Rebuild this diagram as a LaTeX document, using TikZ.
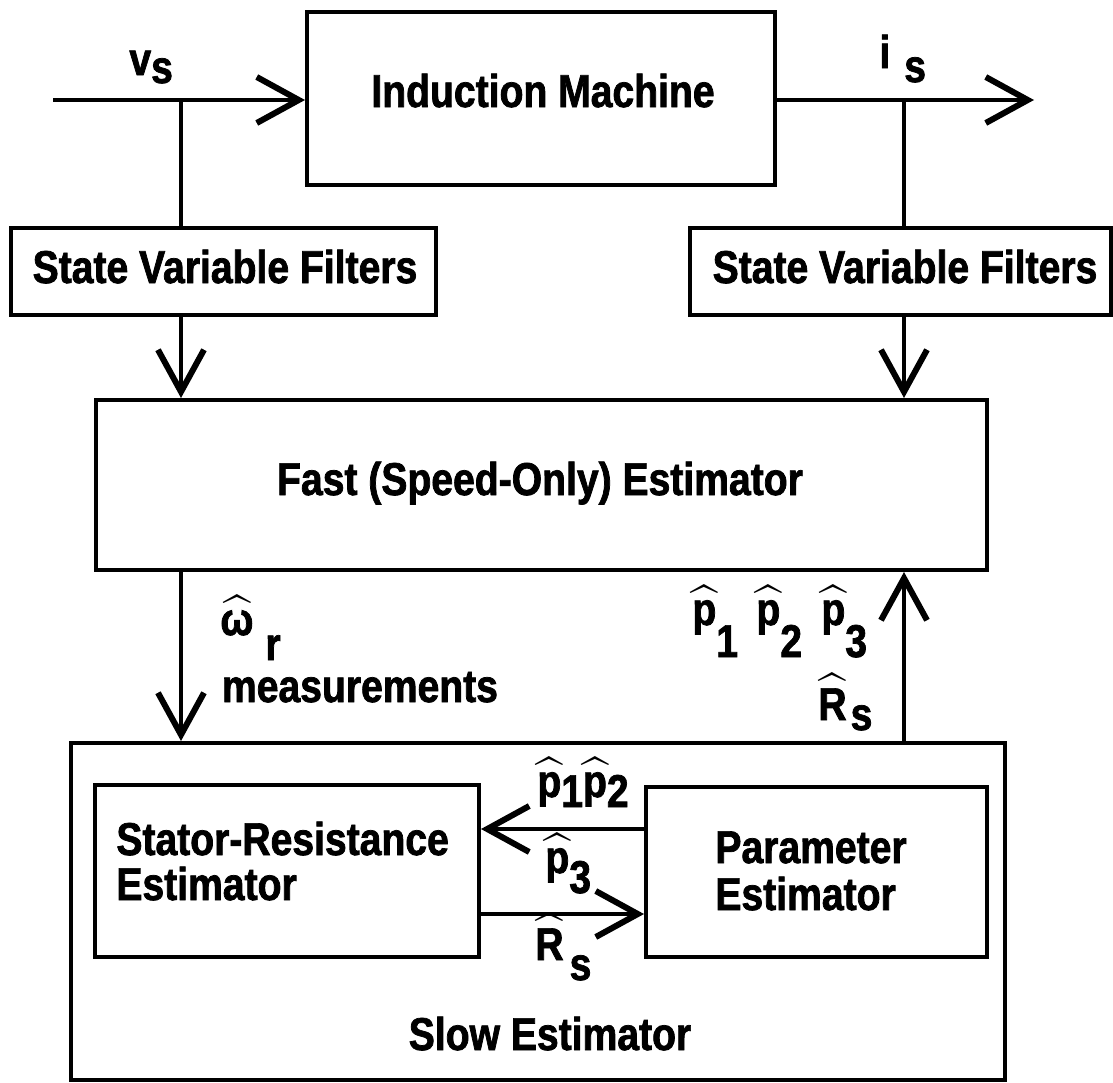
\documentclass[tikz,border=0pt]{standalone}
\usepackage{amsmath}
\usepackage{exscale}
\usepackage{fontspec}
\newfontfamily\hv{Liberation Sans}[FakeStretch=0.85,FakeBold=1.6]
\usetikzlibrary{arrows.meta,fit}
\newcommand\sbs[2]{\raisebox{-#1pt}{#2}}
\newcommand\hh[1]{$\boldsymbol{\widehat{\text{#1}}}$}
\begin{document}
\begin{tikzpicture}[x=0.5pt,y=-0.5pt,
  font=\hv\bfseries\fontsize{23}{27}\selectfont,
  box/.style={draw,line width=2pt,inner sep=0pt},
  conn/.style={line width=1.7pt},
  arr/.style={conn,-{Straight Barb[length=21pt,width=23pt,line width=3pt]}},
  lbl/.style={inner sep=0pt,anchor=base west},
  txt/.style={inner sep=0pt,anchor=base}]
\fill[white] (0,0) rectangle (1113,1082);
\useasboundingbox (0,0) rectangle (1113,1082);
% boxes
\node[box,fit={(307,12)(775,185)}] (im) {};
\node[box,fit={(11,228)(436,315)}] (lf) {};
\node[box,fit={(690,228)(1111,315)}] (rf) {};
\node[box,fit={(96,400)(987,570)}] (fast) {};
\node[box,fit={(71,743)(1005,1080)}] (slow) {};
\node[box,fit={(95,785)(479,957)}] (sr) {};
\node[box,fit={(646,787)(987,957)}] (pe) {};
% texts
\node[txt] (imt) at (543,107) {Induction Machine};
\node[txt] (lft) at (225,283) {State Variable Filters};
\node[txt] (rft) at (905,283) {State Variable Filters};
\node[txt] (fastt) at (540,495) {Fast (Speed-Only) Estimator};
\node[txt] (meas) at (360,702) {measurements};
\node[txt] (slowt) at (550,1050) {Slow Estimator};
\node[lbl] (srt1) at (116,855) {Stator-Resistance};
\node[lbl] (srt2) at (116,900) {Estimator};
\node[lbl] (pet1) at (715,863) {Parameter};
\node[lbl] (pet2) at (715,910) {Estimator};
% coordinates
\coordinate (vin) at (53,100);
\coordinate (iout) at (1034,100);
\coordinate (bl) at (181,100);
\coordinate (br) at (904,100);
\coordinate (ya) at (0,829);
\coordinate (yb) at (0,914);
% connectors
\draw[arr] (vin) -- (vin -| im.west);
\draw[arr] (im.east |- iout) -- (iout);
\draw[conn] (bl) -- (bl |- lf.north);
\draw[conn] (br) -- (br |- rf.north);
\draw[arr] (bl |- lf.south) -- (bl |- fast.north);
\draw[arr] (br |- rf.south) -- (br |- fast.north);
\draw[arr] (bl |- fast.south) -- (bl |- slow.north);
\draw[arr] (br |- slow.north) -- (br |- fast.south);
\draw[arr] (pe.west |- ya) -- (sr.east |- ya);
\draw[arr] (sr.east |- yb) -- (pe.west |- yb);
% labels
\node[lbl] (vs) at (129,75) {v\sbs{4}{s}};
\node[lbl] (is) at (879,68) {i\hspace{7pt}\sbs{7}{s}};
\node[lbl] (wr) at (220,635) {\hh{ω}\hspace{6pt}\sbs{12.5}{r}};
\node[lbl] (p1) at (692,625) {\hh{p}\sbs{16}{1}};
\node[lbl] (p2) at (756,625) {\hh{p}\sbs{16}{2}};
\node[lbl] (p3) at (821,625) {\hh{p}\sbs{16}{3}};
\node[lbl] (rs1) at (818,720) {\hh{R}\hspace{2pt}\sbs{5}{s}};
\node[lbl] (p12) at (537,797) {\hh{p}\sbs{5}{1}\hh{p}\sbs{5}{2}};
\node[lbl] (p3b) at (545,873) {\hh{p}\sbs{10}{3}};
\node[lbl] (rs2) at (535,960) {\hh{R}\hspace{3pt}\sbs{10}{s}};
\end{tikzpicture}
\end{document}
